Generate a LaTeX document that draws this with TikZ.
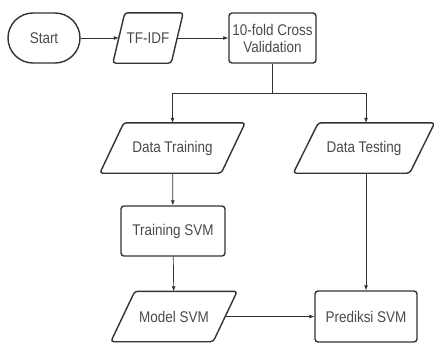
\documentclass[tikz,border=0pt]{standalone}
\usepackage{fontspec}
\setmainfont[FakeStretch=0.87]{Liberation Sans}
\usetikzlibrary{calc,arrows.meta}
\definecolor{linec}{HTML}{333333}
\definecolor{textc}{HTML}{4a4a4a}
\tikzset{
  base/.style={minimum height=50pt, inner sep=0pt, text=textc, font=\fontsize{15.5}{17}\selectfont, align=center},
  procbox/.style={base, draw=linec, line width=1.4pt, rounded corners=3pt},
  termbox/.style={base, draw=linec, line width=1.4pt, rounded corners=25pt},
  iobox/.style={base, draw=none},
  conn/.style={draw=linec, line width=0.7pt, -{Latex[length=5pt,width=4pt]}},
  plain/.style={draw=linec, line width=0.7pt},
  paraline/.style={draw=linec, line width=1.4pt, rounded corners=3pt},
}
\newcommand{\para}[2]{% node name, slant
  \draw[paraline] ($(#1.south west)+(-#2/2,0)$) -- ($(#1.north west)+(#2/2,0)$) -- ($(#1.north east)+(#2/2,0)$) -- ($(#1.south east)+(-#2/2,0)$) -- cycle;}
\begin{document}
\begin{tikzpicture}[x=1pt,y=-1pt]
\useasboundingbox (0,0) rectangle (434,343);
\node[termbox, minimum width=72pt] (start) at (44,38) {Start};
\node[iobox, minimum width=58pt] (tfidf) at (148,38) {TF-IDF};
\para{tfidf}{12}
\node[procbox, minimum width=87pt] (cv) at (272.5,38) {10-fold Cross\\Validation};
\node[iobox, minimum width=121pt] (dtrain) at (172.5,148) {Data Training};
\para{dtrain}{24}
\node[iobox, minimum width=116pt] (dtest) at (364,148) {Data Testing};
\para{dtest}{25}
\node[procbox, minimum width=104pt] (tsvm) at (173,231) {Training SVM};
\node[iobox, minimum width=102pt] (msvm) at (174,316.5) {Model SVM};
\para{msvm}{24}
\node[procbox, minimum width=102pt, minimum height=51pt] (psvm) at (366,316.5) {Prediksi SVM};
\coordinate (split) at ($(cv.south)+(0,30)$);
\draw[conn] (start) -- (tfidf);
\draw[conn] (tfidf) -- (cv);
\draw[plain] (cv.south) -- (split);
\draw[conn] (split) -| (dtrain.north);
\draw[conn] (split) -| ([xshift=2pt]dtest.north);
\draw[conn] (dtrain) -- (tsvm);
\draw[conn] (tsvm) -- (msvm);
\draw[conn] ([xshift=2pt]dtest.south) -- (psvm.north);
\draw[conn] (msvm) -- (psvm);
\end{tikzpicture}
\end{document}
